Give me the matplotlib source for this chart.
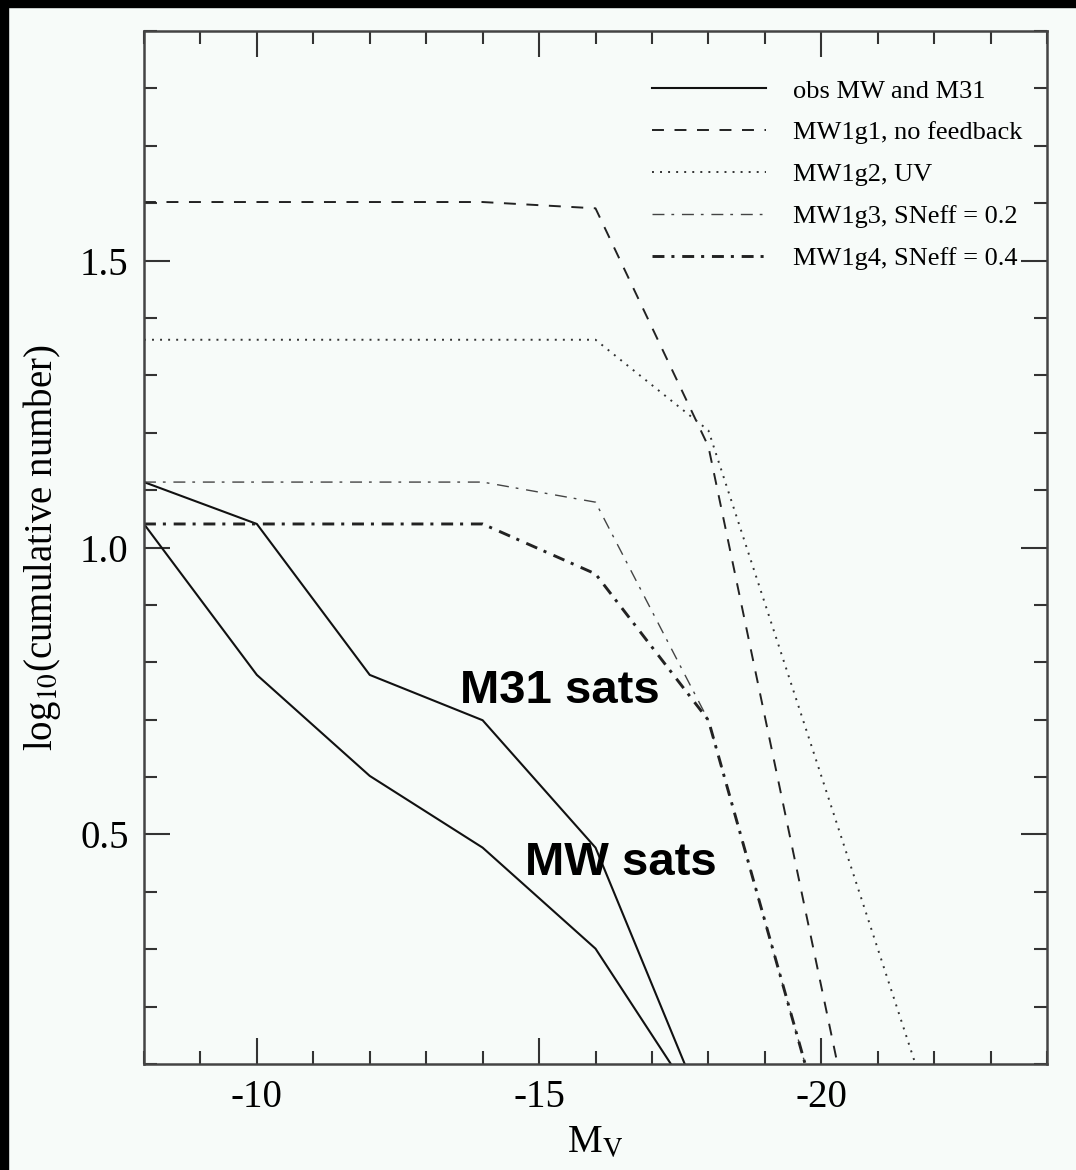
import matplotlib
matplotlib.use("Agg")
import matplotlib.pyplot as plt
from matplotlib.patches import Rectangle
from matplotlib.ticker import MultipleLocator

plt.rcParams['font.family'] = ['Liberation Serif', 'DejaVu Serif']
plt.rcParams['mathtext.fontset'] = 'stix'
plt.rcParams['lines.scale_dashes'] = False

# absolute magnitude bins and log10 of the cumulative counts
mv_obs = [-8, -10, -12, -14, -16, -18]
m31_obs = [1.114, 1.041, 0.778, 0.699, 0.477, 0.0]
mw_obs = [1.041, 0.778, 0.602, 0.477, 0.301, 0.0]

mv_g1 = [-8, -10, -12, -14, -16, -18, -20.5]
g1_nofb = [1.602, 1.602, 1.602, 1.602, 1.591, 1.176, 0.0]

mv_sim = [-8, -10, -12, -14, -16, -18, -20, -22]
g2_uv = [1.362, 1.362, 1.362, 1.362, 1.362, 1.204, 0.602, 0.0]
g3_sn02 = [1.114, 1.114, 1.114, 1.114, 1.079, 0.699, 0.0, 0.0]
g4_sn04 = [1.041, 1.041, 1.041, 1.041, 0.954, 0.699, 0.0, 0.0]

labels = ['obs MW and M31', 'MW1g1, no feedback', 'MW1g2, UV',
          'MW1g3, SNeff = 0.2', 'MW1g4, SNeff = 0.4']

bg = '#f7fbf9'
fig = plt.figure(figsize=(10.76, 11.70), dpi=100, facecolor=bg)
ax = fig.add_axes([0.1338, 0.0906, 0.8393, 0.8829], facecolor=bg)

# black frame strips along the left and top edges
fig.patches.append(Rectangle((0, 0), 8 / 1076, 1, transform=fig.transFigure,
                             color='black', zorder=10))
fig.patches.append(Rectangle((0, 1 - 7 / 1170), 1, 7 / 1170, transform=fig.transFigure,
                             color='black', zorder=10))

ax.plot(mv_obs, m31_obs, color='#111111', lw=1.5, label=labels[0])
ax.plot(mv_obs, mw_obs, color='#111111', lw=1.5)
ax.plot(mv_g1, g1_nofb, color='#222222', lw=1.4, linestyle=(0, (8.6, 7.6)), label=labels[1])
ax.plot(mv_sim, g2_uv, color='#333333', lw=1.4, linestyle=(0, (1.4, 4.4)), label=labels[2])
ax.plot(mv_sim, g3_sn02, color='#444444', lw=1.0,
        linestyle=(0, (8.6, 5.0, 2.0, 5.6)), label=labels[3])
ax.plot(mv_sim, g4_sn04, color='#222222', lw=2.1,
        linestyle=(0, (8.6, 5.0, 2.2, 5.6)), label=labels[4])

ax.text(-13.6, 0.729, 'M31 sats', fontsize=34, fontweight='bold',
        family='Liberation Sans', ha='left', va='baseline')
ax.text(-14.75, 0.429, 'MW sats', fontsize=34, fontweight='bold',
        family='Liberation Sans', ha='left', va='baseline')

ax.set_xlim(-8, -24)
ax.set_ylim(0.1, 1.9)
ax.xaxis.set_major_locator(MultipleLocator(5))
ax.xaxis.set_minor_locator(MultipleLocator(1))
ax.yaxis.set_major_locator(MultipleLocator(0.5))
ax.yaxis.set_minor_locator(MultipleLocator(0.1))
ax.set_xticks([-10, -15, -20])
ax.set_yticks([0.5, 1.0, 1.5])
ax.set_xticklabels(['-10', '-15', '-20'])
ax.set_yticklabels(['0.5', '1.0', '1.5'])

ax.tick_params(which='both', direction='in', top=True, right=True,
               color='#333333', width=1.5, labelsize=28, pad=11)
ax.tick_params(which='major', length=19)
ax.tick_params(which='minor', length=9.5)
for s in ax.spines.values():
    s.set_linewidth(1.8)
    s.set_color('#444444')

ax.set_xlabel(r'M$_{\rm V}$', fontsize=28, labelpad=6)
ax.set_ylabel(r'log$_{10}$(cumulative number)', fontsize=28, labelpad=12)

ax.legend(loc='upper left', bbox_to_anchor=(0.5626, 0.9535), frameon=False,
          fontsize=19, handlelength=4.3, handletextpad=1.06, labelspacing=0.70,
          borderpad=0, borderaxespad=0)

fig.savefig('out.png', dpi=100, facecolor=bg)
